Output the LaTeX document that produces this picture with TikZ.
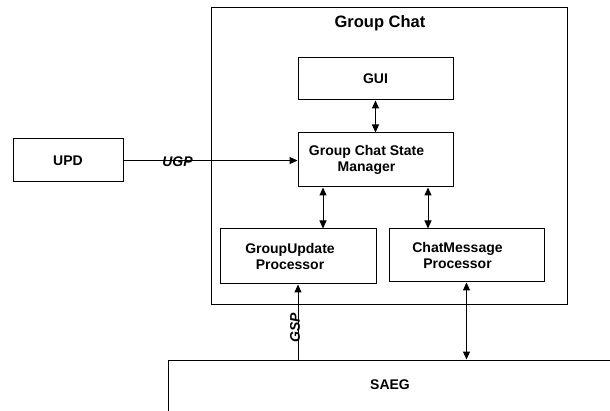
\documentclass[tikz,border=0pt]{standalone}
\usepackage{fontspec}
\setmainfont{Liberation Sans}
\usetikzlibrary{arrows.meta}
\begin{document}
\begin{tikzpicture}[x=1pt,y=-1pt,
  line width=1pt,
  >={Triangle[length=8pt,width=7pt]},
  box/.style={draw, minimum width=#1, inner sep=0pt},
  txt/.style={font=\fontsize{14}{16.5}\selectfont\bfseries, align=center},
  lbl/.style={font=\fontsize{14}{16.5}\selectfont\bfseries\itshape, inner sep=0pt}]
\useasboundingbox (0,0) rectangle (610,411);

% container for the chat components
\node[box=356pt, minimum height=297pt] (chat) at (389,156.5) {};
\node[font=\fontsize{16.5}{19}\selectfont\bfseries] (title) at (380,23) {Group Chat};

% components
\node[box=155pt, minimum height=42pt, txt] (gui) at (375.5,79) {GUI};
\node[box=155pt, minimum height=54pt,
      label={[txt, xshift=-9pt]center:Group Chat State\\Manager}] (sm) at (375.5,160) {};
\node[box=110pt, minimum height=43pt, txt] (upd) at (68,160.5) {UPD};
\node[box=156pt, minimum height=55pt,
      label={[txt, xshift=-8pt]center:GroupUpdate\\Processor}] (gup) at (298,256.5) {};
\node[box=155pt, minimum height=53pt,
      label={[txt, xshift=-9pt]center:ChatMessage\\Processor}] (cmp) at (466.5,255.5) {};

% gateway, running past the right and bottom edges
\node[box=504pt, minimum height=90pt] (saeg) at (420,405) {};
\node[txt] (saegtxt) at (390,385) {SAEG};

% connectors
\draw[->] (upd.east) -- (upd.east -| sm.west)
  node[lbl, pos=0.31, yshift=-1pt] (ugp) {UGP};
\draw[<->] (gui.south) -- (sm.north);
\draw[<->] ([xshift=-52.5pt]sm.south) -- ([xshift=-52.5pt]sm.south |- gup.north);
\draw[<->] ([xshift=52.5pt]sm.south) -- ([xshift=52.5pt]sm.south |- cmp.north);
\draw[->] (gup.south |- saeg.north) -- (gup.south)
  node[lbl, pos=0.42, rotate=90, yshift=3pt] (gsp) {GSP};
\draw[<->] (cmp.south) -- (cmp.south |- saeg.north);
\end{tikzpicture}
\end{document}
